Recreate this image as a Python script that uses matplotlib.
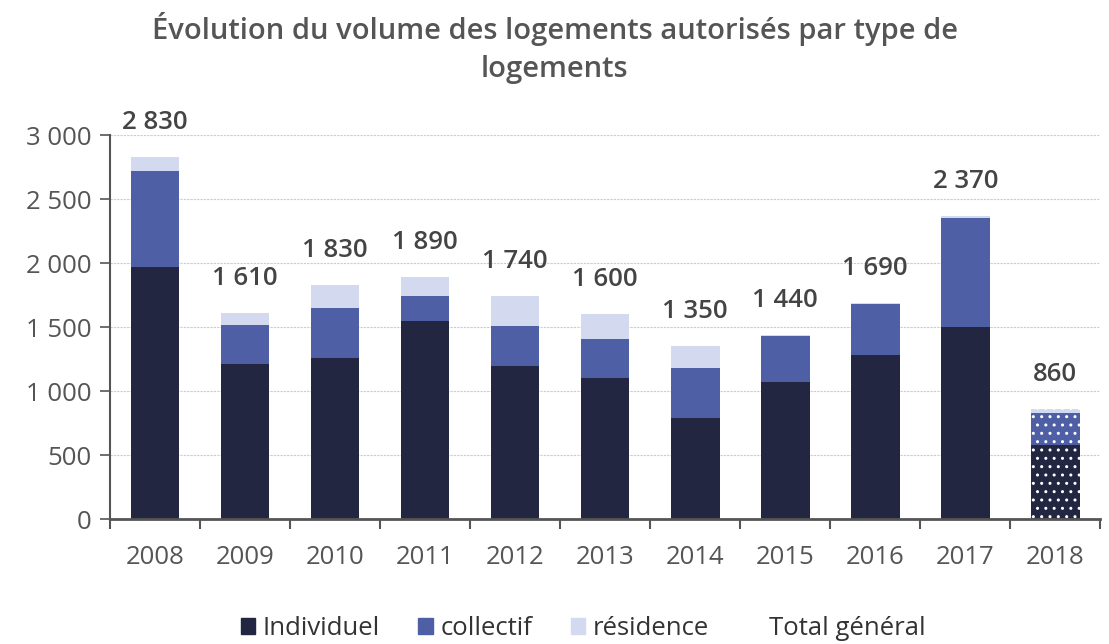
import matplotlib.pyplot as plt
from matplotlib.patches import Patch

years = ['2008', '2009', '2010', '2011', '2012', '2013', '2014', '2015', '2016', '2017', '2018']
individuel = [1970, 1210, 1260, 1550, 1200, 1100, 790, 1070, 1280, 1500, 580]
collectif = [750, 310, 390, 190, 310, 310, 390, 360, 400, 850, 250]
residence = [110, 90, 180, 150, 230, 190, 170, 10, 10, 20, 30]
total = [2830, 1610, 1830, 1890, 1740, 1600, 1350, 1440, 1690, 2370, 860]

c_ind = '#222641'
c_col = '#4F5FA6'
c_res = '#D3DAF0'
grey = '#555555'

plt.rcParams['font.family'] = ['Open Sans', 'DejaVu Sans']

fig = plt.figure(figsize=(11.09, 6.44), dpi=100)
ax = fig.add_axes([0.0992, 0.194, 0.893, 0.596])

x = list(range(len(years)))
w = 0.54
bottom2 = [a + b for a, b in zip(individuel, collectif)]

# 2018 is provisional -> dotted hatch
hatches = [None] * 10 + ['..']
for i in x:
    h = hatches[i]
    ec = 'white' if h else 'none'
    ax.bar(i, individuel[i], w, color=c_ind, hatch=h, edgecolor=ec, linewidth=0)
    ax.bar(i, collectif[i], w, bottom=individuel[i], color=c_col, hatch=h, edgecolor=ec, linewidth=0)
    ax.bar(i, residence[i], w, bottom=bottom2[i], color=c_res, hatch=h, edgecolor=ec, linewidth=0)
    top = bottom2[i] + residence[i]
    lab = '{:,}'.format(total[i]).replace(',', ' ')
    ax.annotate(lab, (i, top), xytext=(0, 16), textcoords='offset points',
                ha='center', va='bottom', fontsize=18.5, fontweight='semibold', color='#444444')

ax.set_xlim(-0.5, len(years) - 0.5)
ax.set_ylim(0, 3000)
ax.set_yticks(range(0, 3001, 500))
ax.set_yticklabels(['{:,}'.format(v).replace(',', ' ') for v in range(0, 3001, 500)])
ax.set_xticks(x)
ax.set_xticklabels(years)
ax.set_xticks([i - 0.5 for i in x] + [len(years) - 0.5], minor=True)
ax.tick_params(axis='x', which='major', length=0, pad=19, labelsize=18.5, labelcolor=grey)
ax.tick_params(axis='x', which='minor', length=7, width=1.5, color=grey, direction='out')
ax.tick_params(axis='y', length=7, width=1.2, color=grey, labelsize=18.5, labelcolor=grey, pad=6)

ax.grid(axis='y', color='#cccccc', linestyle=(0, (2, 1)), linewidth=0.8)
ax.set_axisbelow(True)
for s in ['top', 'right']:
    ax.spines[s].set_visible(False)
ax.spines['left'].set_color(grey)
ax.spines['left'].set_linewidth(1.5)
ax.spines['bottom'].set_color(grey)
ax.spines['bottom'].set_linewidth(2)

fig.text(0.5, 0.982, 'Évolution du volume des logements autorisés par type de\nlogements',
         ha='center', va='top', fontsize=21, fontweight='semibold', color=grey, linespacing=1.45)

handles = [Patch(color=c_ind), Patch(color=c_col), Patch(color=c_res),
           Patch(facecolor='none', edgecolor='none')]
fig.legend(handles, ['Individuel', 'collectif', 'résidence', 'Total général'],
           loc='center', bbox_to_anchor=(0.526, 0.024), ncol=4, frameon=False,
           fontsize=18.5, handlelength=0.55, handleheight=0.55, handletextpad=0.3,
           columnspacing=1.5, labelcolor='#333333')

fig.savefig('out.png', dpi=100)
